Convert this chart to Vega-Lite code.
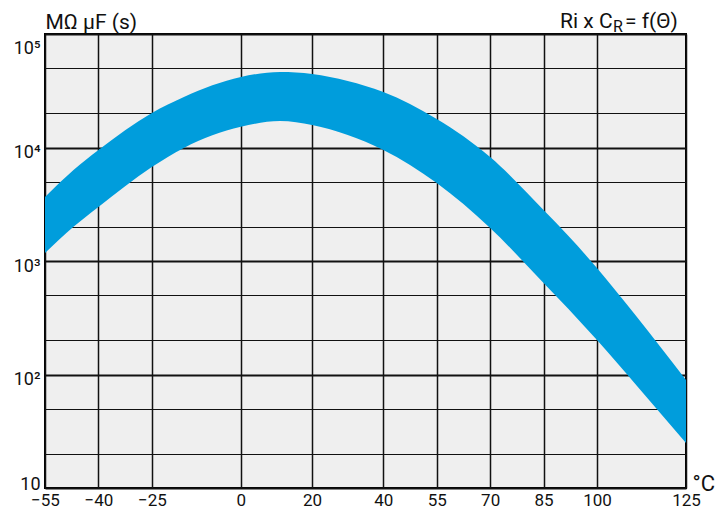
{
  "$schema": "https://vega.github.io/schema/vega-lite/v6.json",
  "width": 641,
  "height": 454,
  "autosize": {"type": "none"},
  "padding": {"left": 45, "top": 34, "right": 34, "bottom": 23},
  "background": "white",
  "config": {
    "view": {"fill": "#efefef", "stroke": "#000", "strokeWidth": 2},
    "font": "Roboto"
  },
  "data": {
    "values": [
      {"t": -55, "lo": 1175, "hi": 3664},
      {"t": -47, "lo": 2000, "hi": 6340},
      {"t": -40, "lo": 2990, "hi": 9510},
      {"t": -25, "lo": 6730, "hi": 20150},
      {"t": -16, "lo": 9900, "hi": 27900},
      {"t": 0, "lo": 15200, "hi": 41800},
      {"t": 11, "lo": 17100, "hi": 46200},
      {"t": 20, "lo": 15800, "hi": 44400},
      {"t": 30, "lo": 12900, "hi": 38500},
      {"t": 40, "lo": 9510, "hi": 30800},
      {"t": 55, "lo": 4860, "hi": 17800},
      {"t": 70, "lo": 1955, "hi": 8240},
      {"t": 85, "lo": 640, "hi": 2810},
      {"t": 92, "lo": 378, "hi": 1660},
      {"t": 100, "lo": 201, "hi": 867},
      {"t": 111, "lo": 80.8, "hi": 327},
      {"t": 125, "lo": 24.9, "hi": 89.6}
    ]
  },
  "layer": [
    {
      "mark": {"type": "area", "color": "#009ddc", "interpolate": "monotone"},
      "encoding": {
        "x": {
          "field": "t",
          "type": "quantitative",
          "scale": {"domain": [-55, 125], "nice": false, "zero": false},
          "axis": {
            "values": [-55, -40, -25, 0, 20, 40, 55, 70, 85, 100, 125],
            "grid": true,
            "gridColor": "#111",
            "gridWidth": 1.5,
            "ticks": false,
            "domain": false,
            "labelFontSize": 17,
            "labelColor": "#111",
            "labelPadding": 4,
            "labelFlush": false,
            "labelOverlap": false,
            "title": "°C",
            "titleAngle": 0,
            "titleAlign": "left",
            "titleBaseline": "alphabetic",
            "titleX": 647,
            "titleY": 2,
            "titleFontSize": 22,
            "titleFontWeight": "normal",
            "titleColor": "#111"
          }
        },
        "y": {
          "field": "lo",
          "type": "quantitative",
          "scale": {"type": "log", "domain": [10, 100000], "nice": false},
          "axis": {
            "values": [10, 20, 50, 100, 200, 500, 1000, 2000, 5000, 10000, 20000, 50000, 100000],
            "grid": true,
            "gridColor": "#111",
            "gridWidth": {"condition": {"test": "datum.value == 10 || datum.value == 100 || datum.value == 1000 || datum.value == 10000 || datum.value == 100000", "value": 2}, "value": 1.2},
            "ticks": false,
            "domain": false,
            "labelExpr": "datum.value == 10 ? '10' : datum.value == 100 ? '10²' : datum.value == 1000 ? '10³' : datum.value == 10000 ? '10⁴' : datum.value == 100000 ? '10⁵' : ''",
            "labelFontSize": 18,
            "labelColor": "#111",
            "labelPadding": 5,
            "labelFlush": true,
            "labelOffset": 5,
            "labelOverlap": false,
            "title": "MΩ µF (s)",
            "titleAngle": 0,
            "titleAlign": "left",
            "titleBaseline": "alphabetic",
            "titleX": 0,
            "titleY": -6,
            "titleFontSize": 21,
            "titleFontWeight": "normal",
            "titleColor": "#111"
          }
        },
        "y2": {"field": "hi"}
      }
    },
    {
      "data": {"values": [{"note": "title"}]},
      "mark": {"type": "text", "text": "Ri x C", "align": "left", "baseline": "alphabetic", "fontSize": 21, "fontWeight": 400, "color": "#111", "dx": -126, "dy": -6},
      "encoding": {
        "x": {"datum": 125, "type": "quantitative"},
        "y": {"datum": 100000, "type": "quantitative"}
      }
    },
    {
      "data": {"values": [{"note": "title"}]},
      "mark": {"type": "text", "text": "R", "align": "left", "baseline": "alphabetic", "fontSize": 16, "fontWeight": 400, "color": "#111", "dx": -73, "dy": -2},
      "encoding": {
        "x": {"datum": 125, "type": "quantitative"},
        "y": {"datum": 100000, "type": "quantitative"}
      }
    },
    {
      "data": {"values": [{"note": "title"}]},
      "mark": {"type": "text", "text": "= f(Θ)", "align": "left", "baseline": "alphabetic", "fontSize": 21, "fontWeight": 400, "color": "#111", "dx": -61, "dy": -6},
      "encoding": {
        "x": {"datum": 125, "type": "quantitative"},
        "y": {"datum": 100000, "type": "quantitative"}
      }
    }
  ]
}
